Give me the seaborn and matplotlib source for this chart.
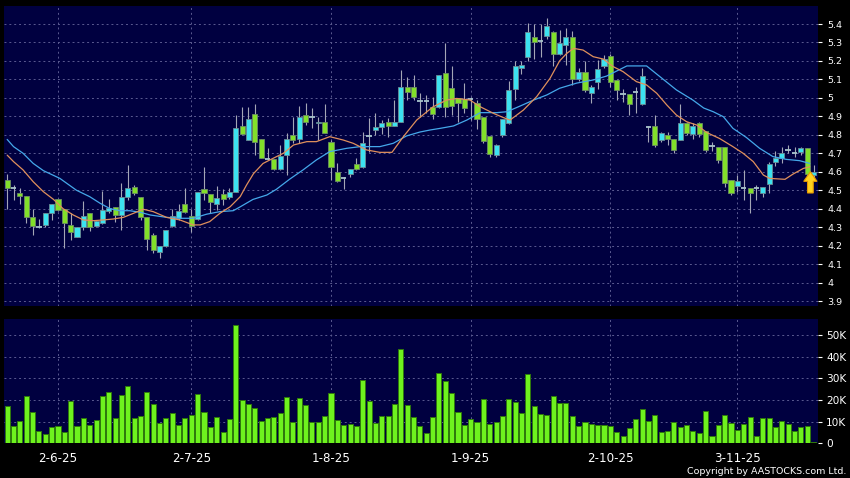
import numpy as np
import pandas as pd
import seaborn as sns
import matplotlib.pyplot as plt
from matplotlib.patches import Polygon

# Daily OHLC (one entry per trading day)
opens = [4.555, 4.51, 4.483, 4.47, 4.353, 4.303, 4.312, 4.375, 4.45, 4.40,
         4.31, 4.248, 4.303, 4.375, 4.306, 4.32, 4.389, 4.411, 4.366, 4.461,
         4.519, 4.461, 4.353, 4.257, 4.164, 4.20, 4.306, 4.348, 4.423, 4.36,
         4.344, 4.508, 4.48, 4.425, 4.48, 4.461, 4.492, 4.848, 4.772, 4.91,
         4.78, 4.667, 4.667, 4.613, 4.69, 4.80, 4.78, 4.907, 4.898, 4.862,
         4.871, 4.763, 4.60, 4.564, 4.59, 4.64, 4.627, 4.794, 4.826, 4.84,
         4.871, 4.85, 4.871, 5.06, 5.06, 4.983, 4.983, 4.952, 4.952, 5.133,
         5.052, 4.998, 4.992, 4.992, 4.97, 4.895, 4.795, 4.69, 4.80, 4.866,
         5.05, 5.164, 5.223, 5.33, 5.308, 5.335, 5.355, 5.238, 5.286, 5.33,
         5.10, 5.14, 5.025, 5.088, 5.17, 5.225, 5.097, 5.02, 5.02, 5.034,
         4.967, 4.844, 4.85, 4.772, 4.80, 4.78, 4.772, 4.862, 4.804, 4.862,
         4.822, 4.74, 4.736, 4.736, 4.555, 4.523, 4.51, 4.51, 4.51, 4.483,
         4.534, 4.651, 4.673, 4.718, 4.70, 4.707, 4.73, 4.582]
highs = [4.59, 4.528, 4.51, 4.47, 4.40, 4.342, 4.375, 4.425, 4.455, 4.40,
         4.375, 4.303, 4.442, 4.375, 4.339, 4.497, 4.45, 4.411, 4.537, 4.636,
         4.528, 4.461, 4.353, 4.266, 4.20, 4.285, 4.40, 4.425, 4.51, 4.40,
         4.492, 4.627, 4.48, 4.523, 4.505, 4.51, 4.907, 4.952, 4.952, 4.967,
         4.78, 4.727, 4.667, 4.745, 4.808, 4.898, 4.956, 4.97, 4.943, 4.898,
         4.967, 4.772, 4.645, 4.573, 4.613, 4.673, 4.817, 4.889, 4.916, 4.88,
         4.889, 4.988, 5.15, 5.115, 5.124, 5.025, 5.016, 5.007, 5.124, 5.295,
         5.17, 4.998, 5.08, 5.007, 4.99, 4.895, 4.795, 4.75, 4.885, 5.09,
         5.20, 5.20, 5.405, 5.40, 5.40, 5.43, 5.36, 5.37, 5.38, 5.36,
         5.16, 5.20, 5.07, 5.205, 5.23, 5.235, 5.097, 5.05, 5.02, 5.057,
         5.16, 4.85, 4.907, 4.817, 4.817, 4.78, 4.967, 4.87, 4.862, 4.87,
         4.822, 4.76, 4.736, 4.736, 4.555, 4.582, 4.61, 4.51, 4.528, 4.519,
         4.655, 4.71, 4.736, 4.745, 4.736, 4.736, 4.73, 4.636]
lows = [4.40, 4.447, 4.425, 4.32, 4.257, 4.294, 4.303, 4.34, 4.39, 4.185,
        4.23, 4.245, 4.285, 4.28, 4.303, 4.317, 4.375, 4.33, 4.285, 4.445,
        4.475, 4.34, 4.176, 4.158, 4.131, 4.195, 4.303, 4.339, 4.375, 4.275,
        4.339, 4.447, 4.375, 4.393, 4.42, 4.455, 4.492, 4.80, 4.772, 4.69,
        4.673, 4.663, 4.609, 4.609, 4.582, 4.754, 4.754, 4.853, 4.835, 4.772,
        4.808, 4.555, 4.546, 4.505, 4.573, 4.609, 4.618, 4.709, 4.80, 4.804,
        4.79, 4.85, 4.871, 4.988, 4.988, 4.898, 4.916, 4.884, 4.943, 4.898,
        4.907, 4.871, 4.916, 4.88, 4.83, 4.755, 4.68, 4.68, 4.79, 4.86,
        4.99, 5.13, 5.20, 5.21, 5.22, 5.32, 5.17, 5.23, 5.18, 5.07,
        5.09, 5.03, 4.97, 5.05, 5.16, 5.06, 4.99, 4.98, 4.907, 4.916,
        4.96, 4.763, 4.735, 4.763, 4.745, 4.70, 4.772, 4.80, 4.78, 4.79,
        4.707, 4.71, 4.646, 4.52, 4.474, 4.492, 4.447, 4.378, 4.447, 4.465,
        4.483, 4.63, 4.646, 4.70, 4.682, 4.69, 4.555, 4.565]
closes = [4.51, 4.51, 4.47, 4.353, 4.306, 4.303, 4.375, 4.425, 4.393, 4.32,
          4.272, 4.303, 4.36, 4.303, 4.333, 4.393, 4.402, 4.366, 4.461, 4.51,
          4.483, 4.357, 4.236, 4.176, 4.20, 4.285, 4.36, 4.389, 4.38, 4.306,
          4.492, 4.483, 4.438, 4.46, 4.45, 4.492, 4.835, 4.804, 4.884, 4.763,
          4.673, 4.667, 4.613, 4.685, 4.78, 4.772, 4.895, 4.871, 4.898, 4.871,
          4.812, 4.627, 4.552, 4.564, 4.613, 4.613, 4.754, 4.794, 4.84, 4.862,
          4.85, 4.871, 5.06, 5.034, 5.003, 4.983, 4.983, 4.913, 5.124, 4.95,
          4.956, 4.97, 4.943, 4.992, 4.885, 4.765, 4.696, 4.745, 4.884, 5.043,
          5.173, 5.18, 5.355, 5.30, 5.308, 5.39, 5.238, 5.295, 5.33, 5.10,
          5.14, 5.043, 5.06, 5.155, 5.21, 5.088, 5.04, 5.02, 4.967, 5.034,
          5.12, 4.844, 4.743, 4.812, 4.78, 4.72, 4.862, 4.81, 4.848, 4.804,
          4.72, 4.74, 4.664, 4.54, 4.483, 4.552, 4.51, 4.483, 4.51, 4.519,
          4.642, 4.676, 4.703, 4.718, 4.70, 4.729, 4.59, 4.60]

# Volume in thousands of shares
volume_k = [17.4, 8.0, 10.3, 21.8, 14.3, 5.7, 4.1, 7.7, 7.8, 5.4,
            19.5, 8.0, 11.8, 8.3, 10.8, 21.8, 23.8, 11.7, 22.3, 26.6,
            11.8, 12.6, 23.8, 18.0, 9.2, 11.5, 14.0, 8.3, 11.5, 13.1,
            22.9, 14.3, 7.7, 12.1, 5.1, 11.2, 54.5, 20.0, 18.3, 16.4,
            10.1, 11.7, 12.0, 13.8, 21.2, 10.0, 20.7, 17.5, 9.7, 9.8,
            12.6, 23.3, 10.6, 8.4, 8.8, 7.8, 29.0, 19.4, 9.5, 12.4,
            12.7, 18.0, 43.5, 17.7, 12.1, 7.8, 4.9, 12.1, 32.6, 28.9,
            23.0, 14.4, 8.3, 11.4, 9.7, 20.3, 8.9, 10.0, 12.6, 20.4,
            18.9, 14.1, 32.1, 17.1, 13.5, 13.2, 21.7, 18.7, 18.7, 12.6,
            8.0, 9.8, 9.1, 8.4, 8.4, 8.0, 5.2, 3.5, 6.9, 11.1,
            15.8, 10.4, 12.9, 5.2, 5.8, 10.0, 7.7, 8.3, 5.5, 4.9,
            14.7, 3.4, 8.4, 13.1, 9.5, 6.0, 8.9, 12.0, 3.4, 11.7,
            11.5, 7.4, 10.1, 8.8, 5.8, 7.5, 7.8, 0.5]

# Moving averages (bar position, price)
ma_short_x = [0, 1, 2.5, 4.1, 5.7, 7.3, 8.8, 10.4, 12, 13.6, 15.1, 16.7, 18.3,
              19.9, 21.4, 23, 25.1, 27.2, 29.3, 30.4, 31.9, 33.5, 35.1, 36.7,
              37.7, 38.8, 40.3, 41.9, 43.5, 45.1, 47.2, 48.7, 50.8, 52.9, 54.5,
              56.6, 58.7, 60.6, 62.4, 64.5, 66.1, 67.1, 69.2, 70.8, 72.9, 74.5,
              76.6, 78.1, 79.2, 81.3, 83.4, 85.5, 87, 88.1, 89.2, 90.7, 92.3,
              93.9, 95.4, 97, 99.1, 100.7, 102.3, 103.9, 105.4, 107, 108.6,
              110.2, 112.2, 114.3, 115.9, 117.5, 119.1, 120.1, 122.5, 123.8,
              125.4, 126.4]
ma_short = [4.69, 4.655, 4.61, 4.546, 4.492, 4.45, 4.40, 4.366, 4.339, 4.335,
            4.339, 4.344, 4.353, 4.375, 4.397, 4.384, 4.353, 4.339, 4.312,
            4.312, 4.33, 4.375, 4.41, 4.465, 4.528, 4.59, 4.645, 4.673, 4.70,
            4.745, 4.763, 4.763, 4.79, 4.772, 4.754, 4.718, 4.705, 4.705, 4.79,
            4.88, 4.925, 4.952, 4.988, 4.997, 4.988, 4.952, 4.916, 4.894, 4.88,
            4.934, 5.007, 5.106, 5.20, 5.24, 5.268, 5.259, 5.223, 5.21, 5.17,
            5.142, 5.088, 5.07, 5.025, 4.961, 4.907, 4.871, 4.853, 4.812, 4.78,
            4.736, 4.70, 4.655, 4.582, 4.564, 4.559, 4.588, 4.618, 4.627]
ma_long_x = [0, 1, 2.5, 4.1, 5.7, 8.3, 10.9, 13, 14.6, 16.2, 17.8, 19.3, 20.9,
             22.5, 25.1, 27.2, 29.3, 31.4, 33.5, 35.6, 36.7, 38.7, 40.9, 42.4,
             44.5, 46.6, 48.7, 50.8, 53.5, 55.6, 58.7, 60.8, 62.9, 65, 66.6,
             68.2, 70.3, 72.4, 74.5, 77.1, 78.7, 80.8, 82.9, 85, 87, 89.7, 92.3,
             94.4, 97.6, 100.7, 102.8, 105.4, 108, 109.7, 111.2, 112.8, 114.3,
             116.4, 118.5, 120.6, 122.7, 124.8, 126.4]
ma_long = [4.775, 4.736, 4.70, 4.645, 4.606, 4.564, 4.50, 4.465, 4.43, 4.40,
           4.389, 4.389, 4.381, 4.366, 4.353, 4.348, 4.348, 4.37, 4.384, 4.389,
           4.41, 4.45, 4.474, 4.505, 4.56, 4.61, 4.664, 4.709, 4.727, 4.736,
           4.736, 4.754, 4.794, 4.815, 4.826, 4.835, 4.848, 4.88, 4.92, 4.92,
           4.925, 4.956, 4.988, 5.016, 5.052, 5.08, 5.097, 5.118, 5.173, 5.173,
           5.115, 5.043, 4.988, 4.945, 4.925, 4.898, 4.835, 4.786, 4.727,
           4.682, 4.667, 4.66, 4.645]

date_labels = ['2-6-25', '2-7-25', '1-8-25', '1-9-25', '2-10-25', '3-11-25']
date_pos = [8, 29, 51, 73, 95, 115]
price_ticks = [3.9, 4.0, 4.1, 4.2, 4.3, 4.4, 4.5, 4.6, 4.7, 4.8, 4.9,
               5.0, 5.1, 5.2, 5.3, 5.4]
vol_ticks = [0, 10, 20, 30, 40, 50]

NAVY = '#000040'
CYAN = '#3ce2f0'
GREEN = '#82e02a'
VOL_GREEN = '#6ef21e'
GRID = '#5a5a90'

sns.set_style('dark', {'axes.facecolor': NAVY, 'figure.facecolor': 'black',
                       'axes.edgecolor': NAVY, 'text.color': 'white',
                       'xtick.color': 'white', 'ytick.color': 'white'})
plt.rcParams['font.family'] = ['DejaVu Sans']

df = pd.DataFrame({'open': opens, 'high': highs, 'low': lows,
                   'close': closes, 'vol': volume_k})
df['pos'] = np.arange(len(df))

fig = plt.figure(figsize=(8.5, 4.78), dpi=100)
fig.patch.set_facecolor('black')
ax = fig.add_axes([4 / 850, 172 / 478, 814 / 850, 300 / 478])
axv = fig.add_axes([4 / 850, 34.7 / 478, 814 / 850, 124.3 / 478])

# --- price panel ---
up = df[df['close'] > df['open']]
down = df[df['close'] < df['open']]
flat = df[df['close'] == df['open']]

ax.vlines(df['pos'], df['low'], df['high'], color='#a4a6b6', lw=0.8, zorder=2)
ax.bar(up['pos'], up['close'] - up['open'], bottom=up['open'], width=0.8,
       color=CYAN, edgecolor='#6a8c94', linewidth=0.6, zorder=3)
ax.bar(down['pos'], down['open'] - down['close'], bottom=down['close'], width=0.8,
       color=GREEN, edgecolor='#6c8c64', linewidth=0.6, zorder=3)
ax.hlines(flat['close'], flat['pos'] - 0.42, flat['pos'] + 0.42,
          color='#a8c4cc', lw=1.3, zorder=3)

sns.lineplot(x=ma_long_x, y=ma_long, ax=ax, color='#45a8ea', lw=0.9, zorder=4)
sns.lineplot(x=ma_short_x, y=ma_short, ax=ax, color='#e0905c', lw=0.9, zorder=4)

# yellow marker arrow on the last bar
cx = df['pos'].iloc[-1] - 0.5
tip = df['close'].iloc[-1]
arrow = Polygon([(cx, tip), (cx + 1.05, tip - 0.052), (cx + 0.45, tip - 0.052),
                 (cx + 0.45, tip - 0.115), (cx - 0.45, tip - 0.115),
                 (cx - 0.45, tip - 0.052), (cx - 1.05, tip - 0.052)],
                closed=True, facecolor='#ffd21e', edgecolor='#e89a00', lw=0.8, zorder=6)
ax.add_patch(arrow)

ax.set_xlim(-0.5, 127.7)
ax.set_ylim(3.873, 5.4975)
ax.set_yticks(price_ticks)
ax.set_yticklabels([f'{v:g}' for v in price_ticks])
ax.set_xticks(date_pos)
ax.set_xticklabels([])
ax.yaxis.tick_right()
ax.tick_params(axis='y', colors='white', length=3, width=0.8, pad=3.5, labelsize=6.8)
ax.tick_params(axis='x', length=0)
ax.grid(True, color=GRID, linestyle=(0, (2, 3)), linewidth=0.7)
ax.set_xlabel('')
ax.set_ylabel('')

# --- volume panel ---
sns.barplot(x=df['pos'], y=df['vol'], ax=axv, color=VOL_GREEN, edgecolor='#2f7a0c',
            linewidth=0.7, width=0.8, saturation=1, errorbar=None, native_scale=True)
axv.set_xlim(-0.5, 127.7)
axv.set_ylim(0, 57.3)
axv.set_yticks(vol_ticks)
axv.set_yticklabels(['0'] + [f'{v}K' for v in vol_ticks[1:]])
axv.set_xticks(date_pos)
axv.set_xticklabels(date_labels)
axv.yaxis.tick_right()
axv.tick_params(axis='y', colors='white', length=3, width=0.8, pad=3, labelsize=7.6)
axv.tick_params(axis='x', colors='#b0b0b0', labelcolor='white', length=3.5,
                width=0.8, pad=2.5, labelsize=8.6)
axv.grid(True, color=GRID, linestyle=(0, (2, 3)), linewidth=0.7)
axv.set_xlabel('')
axv.set_ylabel('')

for a in (ax, axv):
    for s in a.spines.values():
        s.set_visible(False)

fig.text(846 / 850, 1 - 473.5 / 478, 'Copyright by AASTOCKS.com Ltd.', ha='right',
         va='baseline', color='white', fontsize=6.8)

fig.savefig('out.png', dpi=100, facecolor='black')
